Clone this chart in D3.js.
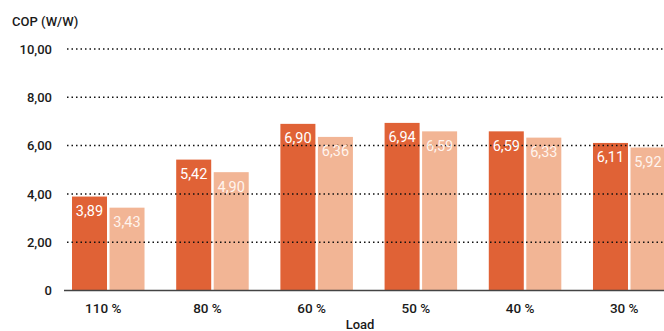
<!DOCTYPE html>
<html>
<head>
<meta charset="utf-8">
<script src="https://cdn.jsdelivr.net/npm/d3@7"></script>
<style>
  html, body { margin: 0; padding: 0; background: #fff; }
  svg { display: block; }
  text { font-family: Roboto, "DejaVu Sans", sans-serif; }
</style>
</head>
<body>
<svg id="chart" width="664" height="331"></svg>
<script>
const categories = ["110 %", "80 %", "60 %", "50 %", "40 %", "30 %"];
const seriesNames = ["A", "B"];
const seriesA = [3.89, 5.42, 6.90, 6.94, 6.59, 6.11];
const seriesB = [3.43, 4.90, 6.36, 6.59, 6.33, 5.92];
const yTicks = [0, 2, 4, 6, 8, 10];
const colors = ["#e06236", "#f2b595"];
const labelColors = ["#ffffff", "#fff4ee"];
const yTitle = "COP (W/W)";
const xTitle = "Load";

const svg = d3.select("#chart");
const W = 664;

const loc = d3.formatLocale({decimal: ",", thousands: ".", grouping: [3], currency: ["", "€"]});
const fmt = loc.format(".2f");

const x0 = d3.scaleBand().domain(categories).range([72, 665.5]).paddingInner(0.304).paddingOuter(0);
const x1 = d3.scaleBand().domain(seriesNames).range([0, x0.bandwidth()]).paddingInner(0.0667).paddingOuter(0);
const y = d3.scaleLinear().domain([0, 10]).range([290.5, 49]);

const series = [seriesA, seriesB];
const cells = [];
categories.forEach((c, i) => series.forEach((s, j) => cells.push({cat: c, s: seriesNames[j], j, v: s[i]})));
const bx = d => x0(d.cat) + x1(d.s);

// bars
svg.append("g").selectAll("rect").data(cells).join("rect")
  .attr("x", bx)
  .attr("y", d => y(d.v))
  .attr("width", x1.bandwidth())
  .attr("height", d => y(0) - y(d.v))
  .attr("fill", d => colors[d.j]);

// dotted gridlines (drawn over the bars)
svg.append("g").selectAll("line").data(yTicks.filter(t => t > 0)).join("line")
  .attr("x1", 67).attr("x2", W)
  .attr("y1", d => y(d)).attr("y2", d => y(d))
  .attr("stroke", "#111")
  .attr("stroke-width", 1.5)
  .attr("stroke-dasharray", "1.5 3");

// value labels
svg.append("g").selectAll("text").data(cells).join("text")
  .attr("x", d => bx(d) + x1.bandwidth() / 2)
  .attr("y", d => y(d.v) + 19.5)
  .attr("text-anchor", "middle")
  .attr("fill", d => labelColors[d.j])
  .attr("font-size", 14.5)
  .text(d => fmt(d.v));

// y axis labels
const yAxis = d3.axisLeft(y).tickValues(yTicks).tickSize(0).tickPadding(0)
  .tickFormat(d => d === 0 ? "0" : fmt(d));
const ya = svg.append("g").attr("transform", "translate(52,0)").call(yAxis);
ya.select(".domain").remove();
ya.selectAll("text")
  .attr("font-family", "Roboto, sans-serif")
  .attr("font-size", 13)
  .attr("font-weight", 500)
  .attr("fill", "#1a1a1a");

// x axis baseline
svg.append("line")
  .attr("x1", 64).attr("x2", W)
  .attr("y1", y(0)).attr("y2", y(0))
  .attr("stroke", "#444").attr("stroke-width", 1.5);

// x axis labels
const xAxis = d3.axisBottom(x0).tickSize(0).tickPadding(0);
const xa = svg.append("g").attr("transform", `translate(-5,${y(0)})`).call(xAxis);
xa.select(".domain").remove();
xa.selectAll("text")
  .attr("dy", null)
  .attr("y", 22)
  .attr("font-family", "Roboto, sans-serif")
  .attr("font-size", 13.5)
  .attr("font-weight", 500)
  .attr("fill", "#1a1a1a");

// titles
svg.append("text")
  .attr("x", 12).attr("y", 26)
  .attr("font-size", 13).attr("font-weight", 500).attr("fill", "#1a1a1a")
  .text(yTitle);

svg.append("text")
  .attr("x", 360).attr("y", 329)
  .attr("text-anchor", "middle")
  .attr("font-size", 13).attr("font-weight", 500).attr("fill", "#1a1a1a")
  .text(xTitle);
</script>
</body>
</html>
